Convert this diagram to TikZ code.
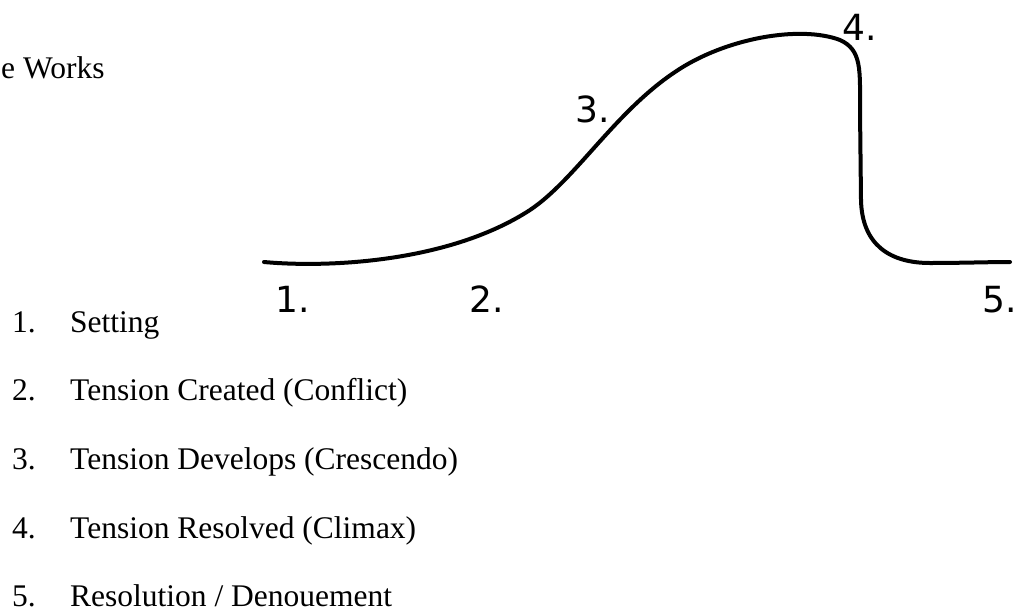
\documentclass[tikz,border=0pt]{standalone}
\usepackage{fontspec}
\setmainfont{Liberation Serif}
\newfontfamily\labelfont{DejaVu Sans}
\usepackage{tikz}
\usetikzlibrary{calc}
\tikzstyle{listtext} = [
  anchor=base west, inner sep=0pt,
  font=\fontsize{31.5}{36}\selectfont
]
\tikzstyle{stagelabel} = [
  anchor=base west, inner sep=0pt,
  font=\labelfont\fontsize{36}{40}\selectfont
]
\tikzstyle{arc} = [line width=4pt, line cap=round, line join=round]

\begin{document}
\begin{tikzpicture}[x=1pt, y=-1pt]

  \useasboundingbox (0, 0) rectangle (1023, 611);

  \node[listtext] (title) at (1, 78) {e Works};

  % the tension curve
  \draw[arc] (264, 262)
    .. controls (330, 268) and (450, 262) .. (530, 210)
    .. controls (575, 180) and (615, 112) .. (675, 72)
    .. controls (725, 38) and (800, 25) .. (840, 40)
    .. controls (862, 50) and (860, 70) .. (860, 110)
    -- (861, 200)
    .. controls (862, 245) and (890, 263) .. (930, 263)
    .. controls (960, 263) and (990, 262) .. (1010, 262);

  \node[stagelabel] (l1) at (275, 312) {1.};
  \node[stagelabel] (l2) at (469, 312) {2.};
  \node[stagelabel] (l3) at (575, 122) {3.};
  \node[stagelabel] (l4) at (842, 40) {4.};
  \node[stagelabel] (l5) at (982, 312) {5.};

  \foreach \i/\txt in {1/Setting, 2/Tension Created (Conflict),
      3/Tension Develops (Crescendo), 4/Tension Resolved (Climax),
      5/{Resolution / Denouement}}
  {
    \node[listtext] (n\i) at (12, {332 + 68.7*(\i-1)}) {\i.};
    \node[listtext] (t\i) at (70, {332 + 68.7*(\i-1)}) {\txt};
  }

\end{tikzpicture}
\end{document}
